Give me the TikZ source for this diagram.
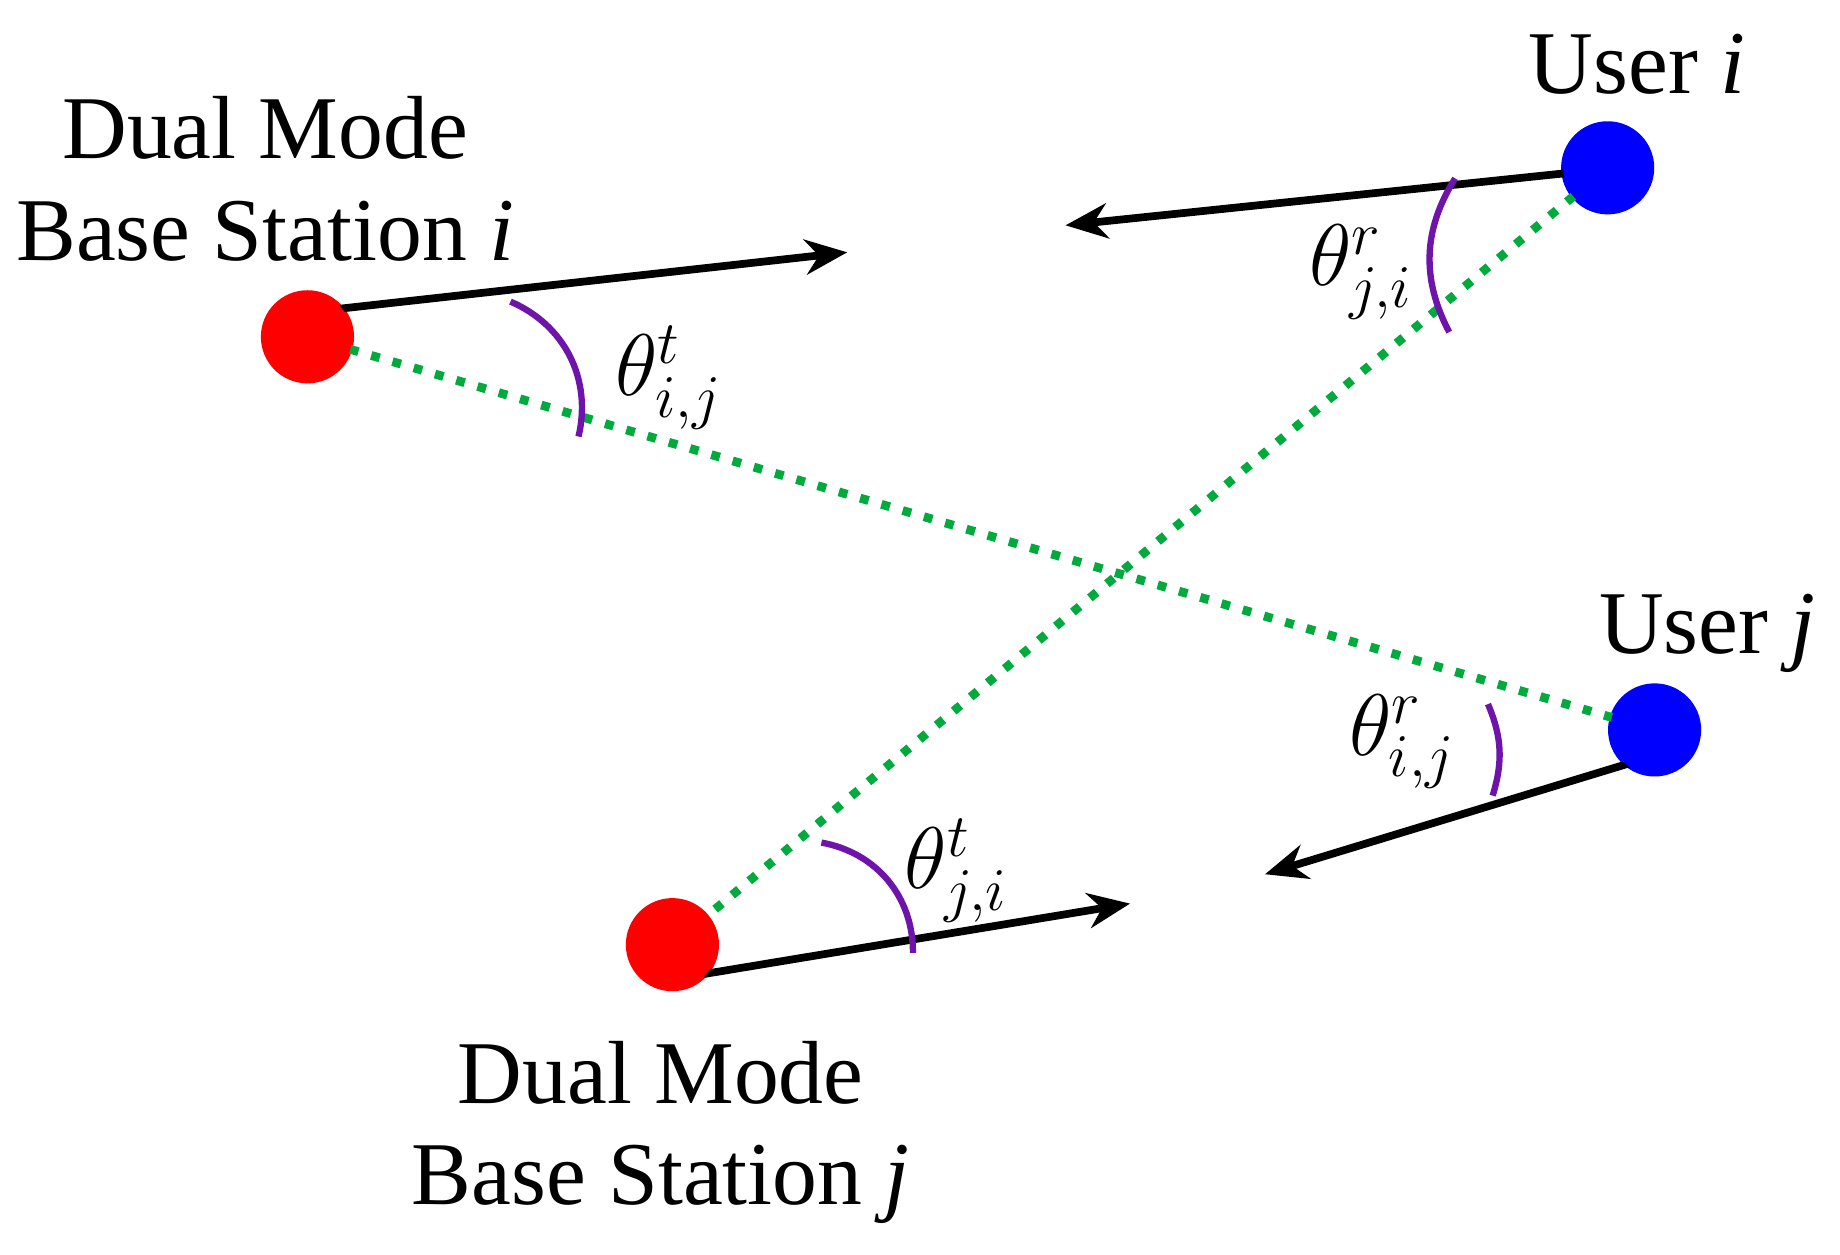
\documentclass[tikz,border=0pt]{standalone}
\usepackage{fontspec}
\setmainfont{Liberation Serif}
\usetikzlibrary{arrows.meta}
\begin{document}
\begin{tikzpicture}[x=0.011735cm,y=-0.011735cm,
  dot/.style={circle,inner sep=0pt,minimum size=26.5pt},
  beam/.style={line width=2.2pt,-{Stealth[length=12pt,width=10pt]}},
  los/.style={draw={rgb,255:red,0;green,170;blue,60},line width=2.5pt,dash pattern=on 2.5pt off 3.8pt},
  ang/.style={draw={rgb,255:red,110;green,20;blue,170},line width=1.8pt},
  lab/.style={font=\fontsize{25.5}{29}\selectfont,align=center},
  th/.style={font=\fontsize{24}{28}\selectfont}]
\useasboundingbox (0,0) rectangle (1568,1069);
\node[dot,fill=red] (bsi) at (262,287) {};
\node[dot,fill=blue] (ui) at (1370,143) {};
\node[dot,fill=blue] (uj) at (1410,622) {};
\node[dot,fill=red] (bsj) at (573,805) {};
\coordinate (ai) at (722,215);
\coordinate (aui) at (908,192);
\coordinate (auj) at (1078,745);
\coordinate (abj) at (963,770);
\draw[los] (bsi.center) -- (uj.center);
\draw[los] (ui.center) -- (bsj.center);
\draw[beam] (bsi.center) ++(28,-24) -- (ai);
\draw[beam] (ui.center) ++(-30,4) -- (aui);
\draw[beam] (uj.center) ++(-20,28) -- (auj);
\draw[beam] (bsj.center) ++(27,25) -- (abj);
\fill[red] (bsi) circle (38); \fill[blue] (ui) circle (38);
\fill[blue] (uj) circle (38); \fill[red] (bsj) circle (38);
\coordinate (a1) at (435,257); \coordinate (a2) at (493,372);
\draw[ang] (a1) to[bend left=40] (a2);
\coordinate (b1) at (1240,152); \coordinate (b2) at (1235,283);
\draw[ang] (b1) to[bend right=30] (b2);
\coordinate (c1) at (1268,600); \coordinate (c2) at (1272,678);
\draw[ang] (c1) to[bend left=20] (c2);
\coordinate (d1) at (700,718); \coordinate (d2) at (778,812);
\draw[ang] (d1) to[bend left=40] (d2);
\node[lab] (lbsi) at (226,152) {Dual Mode\\Base Station \textit{i}};
\node[lab] (lui) at (1395,55) {User \textit{i}};
\node[lab] (luj) at (1455,540) {User \textit{j}};
\node[lab] (lbsj) at (563,965) {Dual Mode\\Base Station \textit{j}};
\node[th] (t1) at (570,322) {$\theta^{t}_{i,j}$};
\node[th] (t2) at (1160,232) {$\theta^{r}_{j,i}$};
\node[th] (t3) at (1195,632) {$\theta^{r}_{i,j}$};
\node[th] (t4) at (815,742) {$\theta^{t}_{j,i}$};
\end{tikzpicture}
\end{document}
